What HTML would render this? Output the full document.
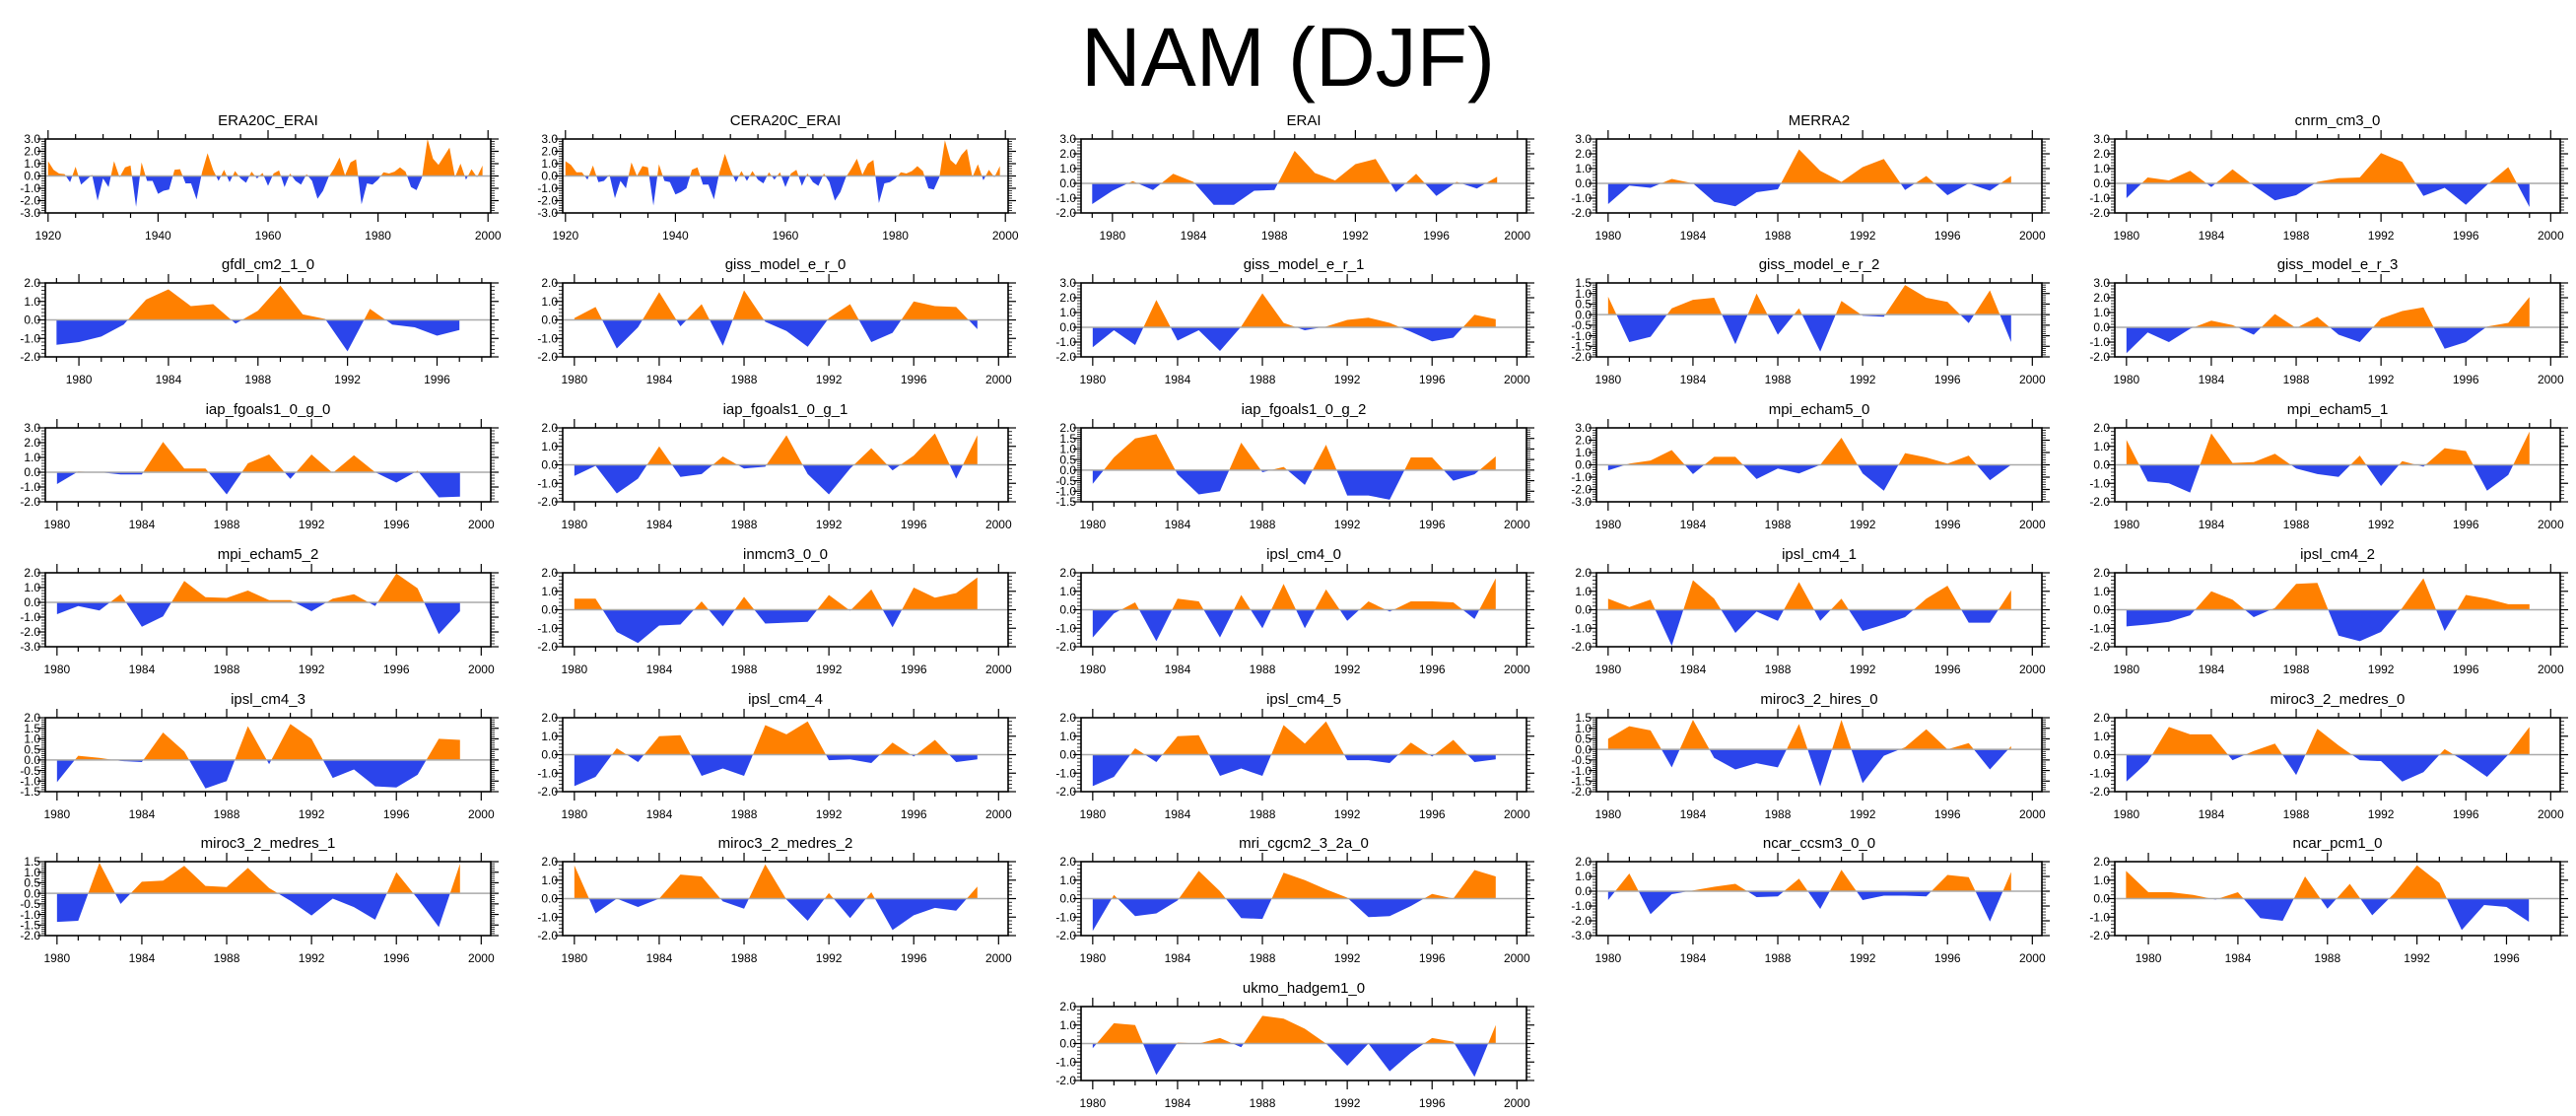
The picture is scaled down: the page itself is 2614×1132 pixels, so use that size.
<!DOCTYPE html>
<html><head><meta charset="utf-8"><title>NAM (DJF)</title>
<style>
html,body{margin:0;padding:0;background:#fff;}
svg{display:block;font-family:"Liberation Sans",Arial,sans-serif;}
</style></head>
<body>
<svg id="chart" xmlns="http://www.w3.org/2000/svg" width="2614" height="1132" viewBox="0 0 2614 1132">
<text x="1307" y="87" font-size="84" text-anchor="middle" fill="#000">NAM (DJF)</text>
</svg>
<script>
// ---- data (one value per year, starting at the panel's start year) ----
const era20cYears = [1920, 1999];
const era20cValues = [1.2,0.5,0.2,0.15,-0.5,0.75,-0.7,-0.3,0.1,-2.0,-0.2,-0.9,1.2,-0.1,0.7,0.85,-2.5,1.1,-0.4,-0.4,-1.45,-1.2,-1.1,0.5,0.55,-0.6,-0.6,-1.9,0.3,1.85,0.5,-0.4,0.5,-0.5,0.4,-0.2,-0.55,0.35,-0.2,0.25,-0.8,0.2,0.45,-0.9,0.2,-0.4,-0.7,0.15,-0.4,-1.85,-1.2,-0.1,0.6,1.5,0.05,1.1,1.35,-2.3,-0.6,-0.7,-0.3,0.3,0.2,0.35,0.7,0.35,-0.9,-1.15,-0.1,3.0,1.4,0.9,1.6,2.3,-0.1,1.0,-0.3,0.55,-0.1,0.85];
const cera20cValues = [1.2,0.9,0.3,0.3,-0.3,0.85,-0.5,-0.4,0.1,-1.8,-0.4,-1.0,1.1,0.0,0.8,0.7,-2.4,0.95,-0.4,-0.5,-1.5,-1.3,-1.0,0.5,0.7,-0.7,-0.7,-1.9,0.3,1.8,0.5,-0.5,0.4,-0.4,0.4,-0.3,-0.6,0.3,-0.3,0.3,-0.9,0.2,0.5,-0.8,0.2,-0.5,-0.8,0.2,-0.5,-2.0,-1.3,-0.1,0.6,1.4,0.1,1.0,1.3,-2.2,-0.6,-0.5,-0.2,0.3,0.2,0.4,0.8,0.4,-1.0,-1.1,-0.1,2.9,1.3,0.9,1.7,2.2,-0.1,0.95,-0.35,0.5,-0.1,0.8];
const eraiValues = [-1.4,-0.5,0.15,-0.45,0.65,0.1,-1.45,-1.45,-0.5,-0.45,2.2,0.7,0.2,1.3,1.65,-0.6,0.65,-0.85,0.1,-0.35,0.45];
const merra2Values = [-1.4,-0.15,-0.3,0.3,0.0,-1.25,-1.55,-0.6,-0.4,2.3,0.85,0.1,1.1,1.65,-0.45,0.5,-0.8,0.0,-0.5,0.5];
const cnrmValues = [-1.0,0.4,0.2,0.85,-0.25,0.95,-0.15,-1.15,-0.8,0.1,0.35,0.4,2.05,1.45,-0.85,-0.3,-1.45,-0.1,1.1,-1.6];
const gfdlValues = [-1.35,-1.2,-0.9,-0.25,1.1,1.65,0.75,0.85,-0.2,0.5,1.85,0.3,0.05,-1.7,0.6,-0.25,-0.4,-0.85,-0.55];
const giss0Values = [0.1,0.7,-1.55,-0.4,1.5,-0.35,0.85,-1.4,1.6,-0.1,-0.6,-1.45,0.1,0.85,-1.2,-0.7,1.0,0.75,0.7,-0.5];
const giss1Values = [-1.35,-0.2,-1.2,1.85,-0.9,-0.2,-1.6,0.05,2.3,0.3,-0.2,0.05,0.5,0.65,0.3,-0.3,-0.95,-0.7,0.85,0.55];
const giss2Values = [0.85,-1.3,-1.05,0.3,0.7,0.8,-1.4,1.0,-0.95,0.3,-1.75,0.65,-0.05,-0.1,1.4,0.8,0.6,-0.4,1.15,-1.3];
const giss3Values = [-1.75,-0.35,-1.0,-0.1,0.45,0.15,-0.5,0.9,-0.05,0.7,-0.5,-1.0,0.6,1.1,1.35,-1.45,-1.0,0.05,0.3,2.05];
const iap0Values = [-0.8,0.05,0.0,-0.15,-0.15,2.05,0.25,0.25,-1.5,0.6,1.2,-0.45,1.2,-0.05,1.15,0.0,-0.7,0.1,-1.7,-1.65];
const iap1Values = [-0.6,-0.05,-1.55,-0.75,1.0,-0.65,-0.5,0.45,-0.2,-0.1,1.6,-0.5,-1.6,-0.2,0.9,-0.3,0.5,1.7,-0.75,1.6];
const iap2Values = [-0.65,0.6,1.5,1.7,-0.2,-1.15,-1.0,1.3,-0.1,0.15,-0.7,1.2,-1.2,-1.2,-1.4,0.6,0.6,-0.5,-0.2,0.65];
const mpi0Values = [-0.45,0.1,0.35,1.2,-0.75,0.65,0.65,-1.15,-0.3,-0.7,0.0,2.2,-0.7,-2.1,0.95,0.6,0.1,0.75,-1.25,0.0];
const mpi1Values = [1.35,-0.9,-1.0,-1.5,1.7,0.1,0.15,0.6,-0.2,-0.5,-0.65,0.5,-1.15,0.2,-0.1,0.9,0.75,-1.4,-0.55,1.8];
const mpi2Values = [-0.8,-0.25,-0.55,0.55,-1.65,-0.95,1.45,0.35,0.3,0.8,0.15,0.15,-0.6,0.25,0.55,-0.25,1.95,0.95,-2.15,-0.6];
const inmcmValues = [0.6,0.6,-1.2,-1.8,-0.85,-0.8,0.45,-0.9,0.7,-0.75,-0.7,-0.65,0.8,-0.05,1.1,-0.95,1.2,0.65,0.9,1.75];
const ipsl0Values = [-1.5,-0.2,0.4,-1.7,0.6,0.45,-1.5,0.8,-1.0,1.4,-1.0,1.1,-0.6,0.45,-0.1,0.45,0.45,0.4,-0.5,1.7];
const ipsl1Values = [0.6,0.15,0.55,-1.95,1.6,0.6,-1.25,-0.1,-0.6,1.5,-0.6,0.6,-1.15,-0.8,-0.4,0.6,1.3,-0.7,-0.7,1.05];
const ipsl2Values = [-0.9,-0.8,-0.65,-0.3,1.0,0.55,-0.4,0.1,1.4,1.45,-1.4,-1.7,-1.2,0.1,1.7,-1.15,0.8,0.6,0.3,0.3];
const ipsl3Values = [-1.05,0.2,0.1,-0.05,-0.1,1.3,0.4,-1.35,-1.0,1.6,-0.2,1.7,1.0,-0.85,-0.45,-1.25,-1.3,-0.7,1.0,0.95];
const ipsl4Values = [-1.7,-1.2,0.35,-0.4,1.0,1.05,-1.15,-0.75,-1.15,1.6,1.1,1.8,-0.3,-0.25,-0.45,0.65,-0.1,0.8,-0.4,-0.25];
const ipsl5Values = [-1.7,-1.2,0.35,-0.4,1.0,1.05,-1.15,-0.75,-1.15,1.6,0.6,1.8,-0.3,-0.3,-0.45,0.65,-0.1,0.8,-0.4,-0.25];
const mirocHiresValues = [0.5,1.1,0.9,-0.85,1.4,-0.4,-0.95,-0.65,-0.85,1.2,-1.75,1.4,-1.6,-0.3,0.1,0.95,0.0,0.3,-0.95,0.15];
const mirocMed0Values = [-1.45,-0.4,1.5,1.1,1.1,-0.3,0.2,0.6,-1.1,1.4,0.5,-0.3,-0.35,-1.45,-0.95,0.3,-0.4,-1.2,0.0,1.5];
const mirocMed1Values = [-1.35,-1.3,1.45,-0.5,0.55,0.6,1.3,0.35,0.3,1.2,0.25,-0.35,-1.05,-0.25,-0.65,-1.25,1.0,-0.25,-1.6,1.4];
const mirocMed2Values = [1.8,-0.8,0.0,-0.45,0.0,1.3,1.2,-0.15,-0.55,1.85,-0.05,-1.2,0.3,-1.05,0.35,-1.7,-0.9,-0.5,-0.65,0.65];
const mriValues = [-1.75,0.2,-0.95,-0.8,-0.1,1.5,0.4,-1.05,-1.1,1.4,1.0,0.5,0.05,-1.0,-0.95,-0.4,0.25,0.0,1.55,1.2];
const ncarCcsmValues = [-0.6,1.2,-1.55,-0.2,0.05,0.3,0.5,-0.4,-0.35,0.85,-1.2,1.45,-0.6,-0.3,-0.3,-0.35,1.1,0.95,-2.05,1.3];
const ncarPcmValues = [1.5,0.35,0.35,0.2,-0.05,0.35,-1.05,-1.2,1.2,-0.55,0.8,-0.9,0.3,1.8,0.85,-1.7,-0.35,-0.45,-1.25];
const ukmoValues = [-0.25,1.1,1.0,-1.7,0.05,0.0,0.3,-0.2,1.5,1.35,0.8,0.0,-1.2,0.0,-1.5,-0.5,0.3,0.1,-1.8,1.0];

// ---- tick label sets ----
const longTickLabels = [1920,1940,1960,1980,2000];
const stdTickLabels = [1980,1984,1988,1992,1996,2000];
const shortTickLabels = [1980,1984,1988,1992,1996];

// ---- panel configuration: name, data, start year, y range ----
const panels = [
 {name:"ERA20C_ERAI", v:era20cValues, start:1920, ylo:-3, yhi:3, ystep:1, kind:"long"},
 {name:"CERA20C_ERAI", v:cera20cValues, start:1920, ylo:-3, yhi:3, ystep:1, kind:"long"},
 {name:"ERAI", v:eraiValues, start:1979, ylo:-2, yhi:3, ystep:1, kind:"std"},
 {name:"MERRA2", v:merra2Values, start:1980, ylo:-2, yhi:3, ystep:1, kind:"std"},
 {name:"cnrm_cm3_0", v:cnrmValues, start:1980, ylo:-2, yhi:3, ystep:1, kind:"std"},
 {name:"gfdl_cm2_1_0", v:gfdlValues, start:1979, ylo:-2, yhi:2, ystep:1, kind:"short"},
 {name:"giss_model_e_r_0", v:giss0Values, start:1980, ylo:-2, yhi:2, ystep:1, kind:"std"},
 {name:"giss_model_e_r_1", v:giss1Values, start:1980, ylo:-2, yhi:3, ystep:1, kind:"std"},
 {name:"giss_model_e_r_2", v:giss2Values, start:1980, ylo:-2, yhi:1.5, ystep:0.5, kind:"std"},
 {name:"giss_model_e_r_3", v:giss3Values, start:1980, ylo:-2, yhi:3, ystep:1, kind:"std"},
 {name:"iap_fgoals1_0_g_0", v:iap0Values, start:1980, ylo:-2, yhi:3, ystep:1, kind:"std"},
 {name:"iap_fgoals1_0_g_1", v:iap1Values, start:1980, ylo:-2, yhi:2, ystep:1, kind:"std"},
 {name:"iap_fgoals1_0_g_2", v:iap2Values, start:1980, ylo:-1.5, yhi:2, ystep:0.5, kind:"std"},
 {name:"mpi_echam5_0", v:mpi0Values, start:1980, ylo:-3, yhi:3, ystep:1, kind:"std"},
 {name:"mpi_echam5_1", v:mpi1Values, start:1980, ylo:-2, yhi:2, ystep:1, kind:"std"},
 {name:"mpi_echam5_2", v:mpi2Values, start:1980, ylo:-3, yhi:2, ystep:1, kind:"std"},
 {name:"inmcm3_0_0", v:inmcmValues, start:1980, ylo:-2, yhi:2, ystep:1, kind:"std"},
 {name:"ipsl_cm4_0", v:ipsl0Values, start:1980, ylo:-2, yhi:2, ystep:1, kind:"std"},
 {name:"ipsl_cm4_1", v:ipsl1Values, start:1980, ylo:-2, yhi:2, ystep:1, kind:"std"},
 {name:"ipsl_cm4_2", v:ipsl2Values, start:1980, ylo:-2, yhi:2, ystep:1, kind:"std"},
 {name:"ipsl_cm4_3", v:ipsl3Values, start:1980, ylo:-1.5, yhi:2, ystep:0.5, kind:"std"},
 {name:"ipsl_cm4_4", v:ipsl4Values, start:1980, ylo:-2, yhi:2, ystep:1, kind:"std"},
 {name:"ipsl_cm4_5", v:ipsl5Values, start:1980, ylo:-2, yhi:2, ystep:1, kind:"std"},
 {name:"miroc3_2_hires_0", v:mirocHiresValues, start:1980, ylo:-2, yhi:1.5, ystep:0.5, kind:"std"},
 {name:"miroc3_2_medres_0", v:mirocMed0Values, start:1980, ylo:-2, yhi:2, ystep:1, kind:"std"},
 {name:"miroc3_2_medres_1", v:mirocMed1Values, start:1980, ylo:-2, yhi:1.5, ystep:0.5, kind:"std"},
 {name:"miroc3_2_medres_2", v:mirocMed2Values, start:1980, ylo:-2, yhi:2, ystep:1, kind:"std"},
 {name:"mri_cgcm2_3_2a_0", v:mriValues, start:1980, ylo:-2, yhi:2, ystep:1, kind:"std"},
 {name:"ncar_ccsm3_0_0", v:ncarCcsmValues, start:1980, ylo:-3, yhi:2, ystep:1, kind:"std"},
 {name:"ncar_pcm1_0", v:ncarPcmValues, start:1979, ylo:-2, yhi:2, ystep:1, kind:"short"},
 {name:"ukmo_hadgem1_0", v:ukmoValues, start:1980, ylo:-2, yhi:2, ystep:1, kind:"std", col:2}
];

const NS = "http://www.w3.org/2000/svg";
const svg = document.getElementById("chart");
const colLeft = [46, 571, 1097, 1620, 2146];
const rowTop = [141, 287, 434, 581, 728, 874, 1021];
const PW = 452, PH = 75;
const ORANGE = "#ff8000", BLUE = "#2b44eb";

function mk(tag, attrs, parent) {
  const e = document.createElementNS(NS, tag);
  for (const k in attrs) e.setAttribute(k, attrs[k]);
  parent.appendChild(e);
  return e;
}
function fmt(v) { const s = v.toFixed(1); return s === "-0.0" ? "0.0" : s; }

panels.forEach(function (p, idx) {
  const row = Math.floor(idx / 5);
  const col = (p.col !== undefined) ? p.col : idx % 5;
  const L = colLeft[col], T = rowTop[row];
  let xmin, xmax, labels, minorStep;
  if (p.kind === "long") { xmin = 1919.5; xmax = 2000.5; labels = longTickLabels; minorStep = 5; }
  else if (p.kind === "short") { xmin = 1978.5; xmax = 1998.4; labels = shortTickLabels; minorStep = 1; }
  else { xmin = p.start - 0.55; xmax = 2000.45; labels = stdTickLabels; minorStep = 1; }
  const X = function (yr) { return L + (yr - xmin) / (xmax - xmin) * PW; };
  const Y = function (v) { return T + (p.yhi - v) / (p.yhi - p.ylo) * PH; };
  const slug = p.name.toLowerCase().replace(/_/g, "-");

  const g = mk("g", {}, svg);
  
  

  const title = mk("text", {x: L + PW / 2, y: T - 14, "font-size": 15, "text-anchor": "middle", fill: "#000"}, g);
  
  
  title.textContent = p.name;

  const y0 = Y(0);
  const cpA = mk("clipPath", {id: "ca" + idx}, g);
  mk("rect", {x: L, y: T, width: PW, height: y0 - T}, cpA);
  const cpB = mk("clipPath", {id: "cb" + idx}, g);
  mk("rect", {x: L, y: y0, width: PW, height: T + PH - y0}, cpB);

  const n = p.v.length;
  let pts = X(p.start).toFixed(2) + "," + y0.toFixed(2) + " ";
  for (let i = 0; i < n; i++) pts += X(p.start + i).toFixed(2) + "," + Y(p.v[i]).toFixed(2) + " ";
  pts += X(p.start + n - 1).toFixed(2) + "," + y0.toFixed(2);

  const pos = mk("polygon", {points: pts, fill: ORANGE, "clip-path": "url(#ca" + idx + ")"}, g);
  
  
  const neg = mk("polygon", {points: pts, fill: BLUE, "clip-path": "url(#cb" + idx + ")"}, g);
  
  

  const zl = mk("line", {x1: L, x2: L + PW, y1: y0, y2: y0, stroke: "#aaaaaa", "stroke-width": 1.5}, g);
  
  

  const tg = mk("g", {stroke: "#000", "stroke-width": 1.2}, g);
  
  
  const tStart = (p.kind === "long") ? 1920 : Math.ceil(xmin);
  for (let yr = tStart; yr <= xmax + 1e-6; yr += minorStep) {
    const major = labels.indexOf(yr) >= 0;
    const len = major ? 9 : 5;
    const xx = X(yr);
    mk("line", {x1: xx, x2: xx, y1: T + PH, y2: T + PH + len}, tg);
    mk("line", {x1: xx, x2: xx, y1: T, y2: T - len}, tg);
  }
  const minorY = p.ystep / 5;
  const nY = Math.round((p.yhi - p.ylo) / minorY);
  for (let k = 0; k <= nY; k++) {
    const v = p.ylo + k * minorY;
    const major = (k % 5) === 0;
    const len = major ? 8 : 4;
    const yy = Y(v);
    mk("line", {x1: L, x2: L - len, y1: yy, y2: yy, "stroke-width": major ? 1.2 : 0.8}, tg);
    mk("line", {x1: L + PW, x2: L + PW + len, y1: yy, y2: yy, "stroke-width": major ? 1.2 : 0.8}, tg);
  }

  labels.forEach(function (yr) {
    const t = mk("text", {x: X(yr), y: T + PH + 27, "font-size": 12, "text-anchor": "middle", fill: "#000"}, g);
    
    
    t.textContent = String(yr);
  });
  const nMaj = Math.round((p.yhi - p.ylo) / p.ystep);
  for (let k = 0; k <= nMaj; k++) {
    const v = p.ylo + k * p.ystep;
    const t = mk("text", {x: L - 5, y: Y(v) + 4.2, "font-size": 12, "text-anchor": "end", fill: "#000"}, g);
    
    
    t.textContent = fmt(v);
  }

  const box = mk("rect", {x: L, y: T, width: PW, height: PH, fill: "none", stroke: "#000", "stroke-width": 1.6}, g);
  
  
});
</script>
</body></html>
